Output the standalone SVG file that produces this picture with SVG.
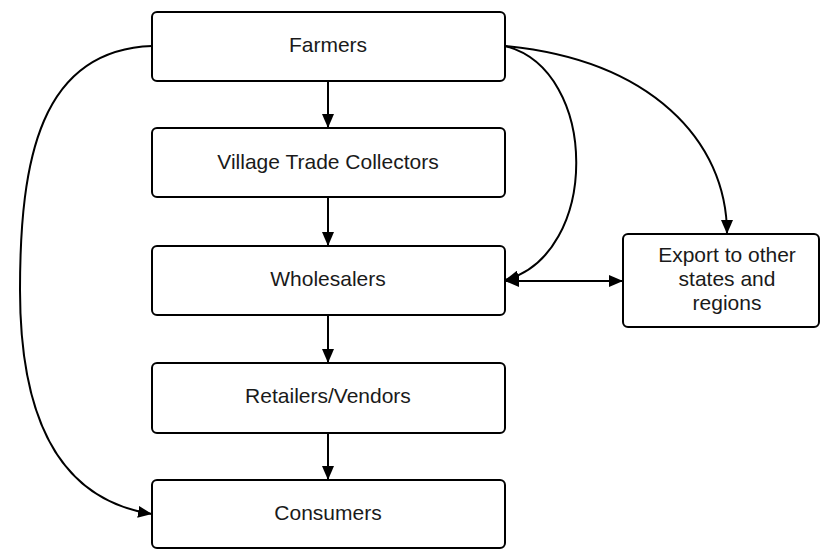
<svg xmlns="http://www.w3.org/2000/svg" width="822" height="550" viewBox="0 0 822 550">
<style>
.box{fill:#fff;stroke:#000;stroke-width:2}
.lbl{font-family:"Liberation Sans",Arial,sans-serif;font-size:21px;fill:#1a1a1a;text-anchor:middle;dominant-baseline:central}
.c{fill:none;stroke:#000;stroke-width:2}
</style>
<defs>
<marker id="ah" viewBox="0 0 14 12" refX="14" refY="6" markerWidth="14" markerHeight="12" markerUnits="userSpaceOnUse" orient="auto-start-reverse">
<path d="M0,0 L14,6 L0,12 Z" fill="#000"/>
</marker>
</defs>
<rect width="822" height="550" fill="#fff"/>
<g id="connectors">
<path class="c" d="M328,81 V128" marker-end="url(#ah)"/>
<path class="c" d="M328,197 V246" marker-end="url(#ah)"/>
<path class="c" d="M328,315 V363" marker-end="url(#ah)"/>
<path class="c" d="M328,433 V480" marker-end="url(#ah)"/>
<path class="c" d="M152,46 C40,50 20,160 20,290 C20,420 60,500 152,514" marker-end="url(#ah)"/>
<path class="c" d="M505,46 C650,60 727,140 727,234" marker-end="url(#ah)"/>
<path class="c" d="M505,46 C600,70 600,255 505,280" marker-end="url(#ah)"/>
<path class="c" d="M505,281 H623" marker-start="url(#ah)" marker-end="url(#ah)"/>
</g>
<g id="farmers"><rect class="box" x="152" y="12" width="353" height="69" rx="5"/><text class="lbl" x="328" y="44">Farmers</text></g>
<g id="collectors"><rect class="box" x="152" y="128" width="353" height="69" rx="5"/><text class="lbl" x="328" y="161">Village Trade Collectors</text></g>
<g id="wholesalers"><rect class="box" x="152" y="246" width="353" height="69" rx="5"/><text class="lbl" x="328" y="278">Wholesalers</text></g>
<g id="retailers"><rect class="box" x="152" y="363" width="353" height="70" rx="5"/><text class="lbl" x="328" y="395">Retailers/Vendors</text></g>
<g id="consumers"><rect class="box" x="152" y="480" width="353" height="68" rx="5"/><text class="lbl" x="328" y="512">Consumers</text></g>
<g id="export"><rect class="box" x="623" y="234" width="196" height="93" rx="5"/><text class="lbl" x="727" y="254">Export to other</text><text class="lbl" x="727" y="278">states and</text><text class="lbl" x="727" y="302">regions</text></g>
</svg>
